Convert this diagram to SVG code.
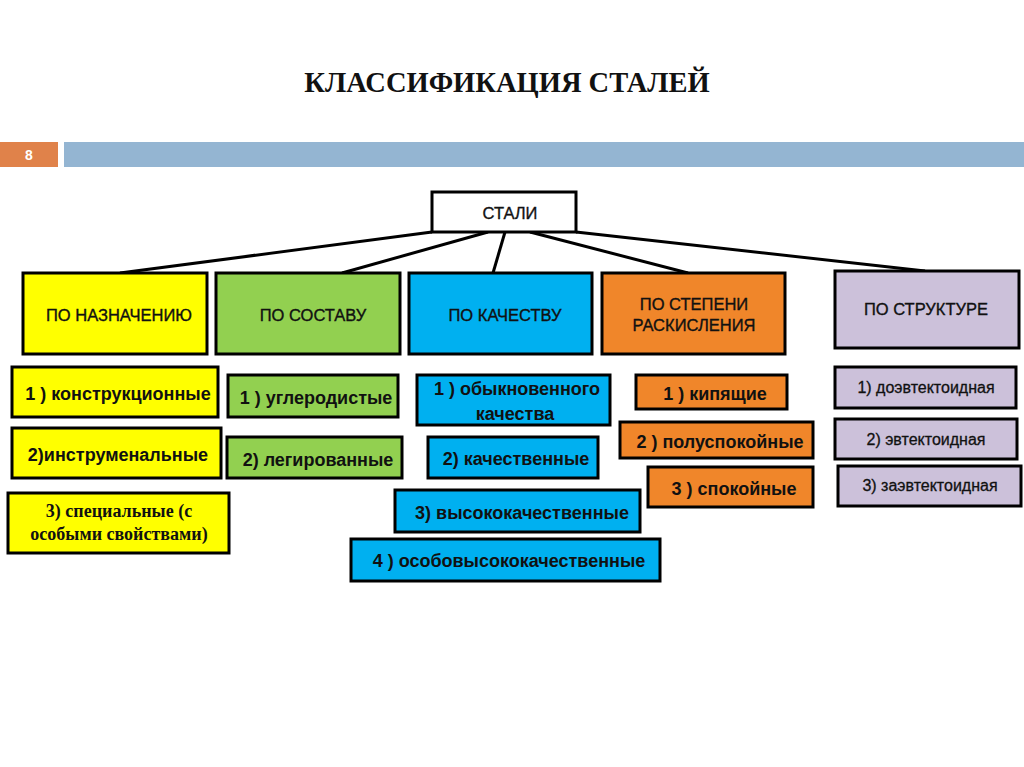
<svg xmlns="http://www.w3.org/2000/svg" width="1024" height="767" viewBox="0 0 1024 767">
<style>
.box{stroke:#000;stroke-width:3}
.hd{font-family:"Liberation Sans",Arial,sans-serif;font-size:16.5px;fill:#111;stroke:#111;stroke-width:0.35;text-anchor:middle}
.it{font-family:"Liberation Sans",Arial,sans-serif;font-size:18px;font-weight:bold;fill:#111;text-anchor:middle}
.lv{font-family:"Liberation Sans",Arial,sans-serif;font-size:16px;fill:#111;stroke:#111;stroke-width:0.3;text-anchor:middle}
.sf{font-family:"Liberation Serif","Times New Roman",serif;font-size:18px;font-weight:bold;fill:#111;text-anchor:middle}
.y{fill:#FFFF00}.g{fill:#92D050}.b{fill:#00B0F0}.o{fill:#F0862A}.l{fill:#CCC1DA}.w{fill:#fff}
</style>
<rect width="1024" height="767" fill="#fff"/>
<text x="507" y="92" text-anchor="middle" font-family="Liberation Serif,'Times New Roman',serif" font-size="28.5" font-weight="bold" fill="#111">КЛАССИФИКАЦИЯ СТАЛЕЙ</text>
<g id="header">
<rect x="0" y="142" width="58" height="25" fill="#E0824A"/>
<text x="29" y="160" text-anchor="middle" font-family="Liberation Sans,Arial,sans-serif" font-size="14" font-weight="bold" fill="#fff">8</text>
<rect x="64" y="142" width="960" height="25" fill="#94B5D2"/>
</g>
<g id="connectors" stroke="#000" stroke-width="3" fill="none">
<line x1="432" y1="232" x2="120" y2="273"/>
<line x1="488" y1="232" x2="342" y2="273"/>
<line x1="505" y1="232" x2="493" y2="273"/>
<line x1="530" y1="232" x2="688" y2="273"/>
<line x1="576" y1="232" x2="925" y2="271"/>
</g>
<g id="root"><rect class="box w" x="432" y="192" width="144" height="40"/><text class="hd" x="510" y="219">СТАЛИ</text></g>
<g id="cat1"><rect class="box y" x="23" y="273" width="184" height="81"/><text class="hd" x="119" y="321">ПО НАЗНАЧЕНИЮ</text></g>
<g id="cat2"><rect class="box g" x="216" y="273" width="184" height="81"/><text class="hd" x="313" y="321">ПО СОСТАВУ</text></g>
<g id="cat3"><rect class="box b" x="409" y="273" width="183" height="81"/><text class="hd" x="505" y="321">ПО КАЧЕСТВУ</text></g>
<g id="cat4"><rect class="box o" x="602" y="273" width="183" height="81"/><text class="hd" x="694" y="310">ПО СТЕПЕНИ</text><text class="hd" x="694" y="331">РАСКИСЛЕНИЯ</text></g>
<g id="cat5"><rect class="box l" x="835" y="271" width="184" height="77"/><text class="hd" x="926" y="315">ПО СТРУКТУРЕ</text></g>
<g id="y1"><rect class="box y" x="12" y="367" width="206" height="50"/><text class="it" x="118" y="400">1 ) конструкционные</text></g>
<g id="y2"><rect class="box y" x="12" y="428" width="209" height="50"/><text class="it" x="118" y="461">2)инструменальные</text></g>
<g id="y3"><rect class="box y" x="8" y="493" width="221" height="60"/><text class="sf" x="119" y="517">3) специальные (с</text><text class="sf" x="119" y="540">особыми свойствами)</text></g>
<g id="g1"><rect class="box g" x="228" y="375" width="170" height="42"/><text class="it" x="316" y="404">1 ) углеродистые</text></g>
<g id="g2"><rect class="box g" x="227" y="437" width="175" height="41"/><text class="it" x="318" y="466">2) легированные</text></g>
<g id="b1"><rect class="box b" x="417" y="375" width="193" height="50"/><text class="it" x="517" y="395">1 ) обыкновенного</text><text class="it" x="515" y="420">качества</text></g>
<g id="b2"><rect class="box b" x="428" y="437" width="170" height="41"/><text class="it" x="516" y="465">2) качественные</text></g>
<g id="b3"><rect class="box b" x="395" y="490" width="245" height="42"/><text class="it" x="522" y="519">3)  высококачественные</text></g>
<g id="b4"><rect class="box b" x="351" y="539" width="309" height="42"/><text class="it" x="509" y="567">4 ) особовысококачественные</text></g>
<g id="o1"><rect class="box o" x="636" y="375" width="151" height="34"/><text class="it" x="715" y="400">1 ) кипящие</text></g>
<g id="o2"><rect class="box o" x="620" y="422" width="193" height="36"/><text class="it" x="720" y="448">2 ) полуспокойные</text></g>
<g id="o3"><rect class="box o" x="648" y="467" width="165" height="40"/><text class="it" x="734" y="495">3 ) спокойные</text></g>
<g id="l1"><rect class="box l" x="835" y="367" width="181" height="41"/><text class="lv" x="926" y="393">1) доэвтектоидная</text></g>
<g id="l2"><rect class="box l" x="835" y="419" width="182" height="40"/><text class="lv" x="926" y="445">2) эвтектоидная</text></g>
<g id="l3"><rect class="box l" x="838" y="466" width="183" height="40"/><text class="lv" x="930" y="491">3) заэвтектоидная</text></g>
</svg>
